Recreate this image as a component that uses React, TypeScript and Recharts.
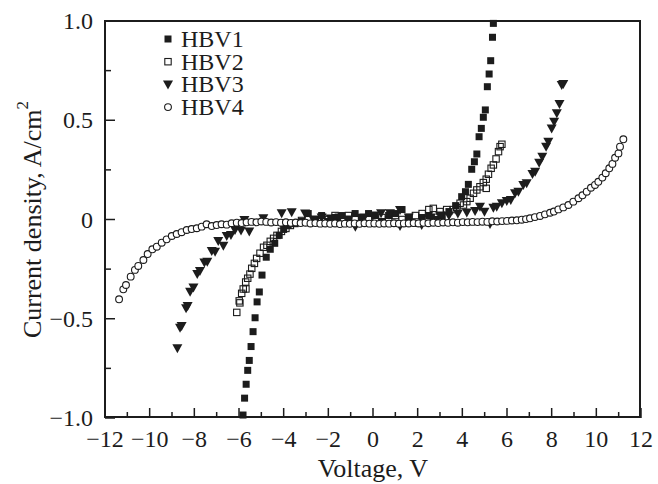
import React from 'react';
import { ScatterChart, Scatter, XAxis, YAxis } from 'recharts';

const INK = '#1c1c1c';
const FONT = '"Liberation Serif", "Times New Roman", serif';

// layout
const W = 658;
const H = 484;
const M = { top: 21, right: 17, bottom: 0, left: 0 };
const Y_AXIS_W = 105;
const X_AXIS_H = 66;

// x ticks every 1 V, labels only on even values
const xTicks = [-12, -11, -10, -9, -8, -7, -6, -5, -4, -3, -2, -1, 0, 1, 2, 3, 4, 5, 6, 7, 8, 9, 10, 11, 12];
const yTicks = [-1, -0.75, -0.5, -0.25, 0, 0.25, 0.5, 0.75, 1];
const yTickLabels: Record<string, string> = { '-1': '\u22121.0', '-0.5': '\u22120.5', '0': '0', '0.5': '0.5', '1': '1.0' };

// [voltage, current density]
const hbv1: [number, number][] = [
  [-5.82, -0.985], [-5.75, -0.9], [-5.68, -0.83], [-5.61, -0.76], [-5.54, -0.71], [-5.46, -0.64],
  [-5.37, -0.565], [-5.28, -0.495], [-5.19, -0.415], [-5.09, -0.365], [-4.97, -0.28], [-4.78, -0.19],
  [-4.6, -0.15], [-4.4, -0.12], [-4.2, -0.08], [-4.0, -0.05], [-3.8, -0.03], [-3.5, -0.02], [-3.2, -0.01],
  [-2.9, 0.03], [-2.6, 0.0], [-2.3, 0.02], [-2.0, -0.01], [-1.7, 0.01], [-1.4, 0.02], [-1.1, 0.0],
  [-0.8, 0.03], [-0.5, 0.01], [-0.2, 0.03], [0.1, 0.02], [0.4, -0.01], [0.7, 0.02], [1.0, 0.03],
  [1.3, 0.05], [1.6, 0.0], [1.9, -0.02], [2.2, 0.01], [2.5, 0.02], [2.8, 0.0], [3.1, 0.02], [3.4, 0.04],
  [3.7, 0.07], [3.97, 0.115], [4.14, 0.14], [4.27, 0.177], [4.42, 0.253], [4.54, 0.291], [4.65, 0.33],
  [4.75, 0.417], [4.85, 0.459], [4.94, 0.515], [5.03, 0.552], [5.12, 0.669], [5.2, 0.733], [5.27, 0.8],
  [5.35, 0.918], [5.39, 0.988],
];

const hbv2: [number, number][] = [
  [-6.1, -0.468], [-5.99, -0.41], [-5.96, -0.42], [-5.88, -0.372], [-5.81, -0.35], [-5.69, -0.35],
  [-5.7, -0.315], [-5.61, -0.296], [-5.51, -0.275], [-5.43, -0.246], [-5.31, -0.221], [-5.21, -0.196],
  [-5.06, -0.17], [-4.9, -0.14], [-4.75, -0.13], [-4.6, -0.11], [-4.45, -0.095], [-4.3, -0.08],
  [-4.1, -0.06], [-3.9, -0.045], [-3.7, -0.03], [-3.5, -0.02], [-3.2, -0.005], [-2.9, 0.0], [-2.6, -0.01],
  [-2.3, 0.01], [-2.0, 0.0], [-1.7, 0.02], [-1.4, 0.0], [-1.1, 0.02], [-0.8, 0.01], [-0.5, 0.0],
  [-0.2, 0.01], [0.1, 0.0], [0.4, 0.01], [0.7, 0.0], [1.0, 0.02], [1.3, 0.0], [1.6, 0.01], [1.9, 0.02],
  [2.2, 0.03], [2.5, 0.05], [2.7, 0.056], [3.0, 0.04], [3.3, 0.05], [3.6, 0.05], [3.75, 0.06],
  [3.9, 0.082], [4.05, 0.073], [4.2, 0.09], [4.35, 0.107], [4.5, 0.132], [4.65, 0.149], [4.79, 0.165],
  [4.94, 0.186], [5.07, 0.157], [5.07, 0.203], [5.17, 0.228], [5.29, 0.258], [5.39, 0.275], [5.51, 0.305],
  [5.62, 0.342], [5.69, 0.367], [5.77, 0.379],
];

const hbv3: [number, number][] = [
  [-8.76, -0.649], [-8.64, -0.545], [-8.57, -0.537], [-8.37, -0.447], [-8.3, -0.436], [-8.19, -0.364],
  [-8.04, -0.342], [-7.87, -0.275], [-7.75, -0.259], [-7.55, -0.216], [-7.42, -0.213], [-7.22, -0.159],
  [-7.07, -0.162], [-6.93, -0.108], [-6.7, -0.132], [-6.55, -0.083], [-6.36, -0.078], [-6.18, -0.053],
  [-5.91, -0.056], [-5.76, -0.003], [-5.54, -0.061], [-4.91, 0.006], [-4.09, 0.031], [-3.64, 0.036],
  [-3.04, 0.03], [-2.67, 0.0], [-2.3, 0.01], [-1.9, 0.005], [-1.5, 0.01], [-1.1, 0.0], [-0.79, -0.036],
  [-0.4, 0.01], [0.0, 0.02], [0.36, 0.031], [0.76, 0.031], [1.21, 0.048], [1.21, -0.033], [1.6, 0.01],
  [2.18, -0.028], [2.6, 0.01], [3.0, 0.02], [3.4, 0.02], [3.8, 0.03], [4.2, 0.035], [4.57, 0.043],
  [4.79, 0.064], [4.99, 0.039], [5.24, -0.023], [5.39, 0.059], [5.54, 0.064], [5.77, 0.082], [5.99, 0.093],
  [6.17, 0.098], [6.36, 0.132], [6.51, 0.14], [6.73, 0.174], [6.88, 0.182], [7.14, 0.229], [7.26, 0.241],
  [7.44, 0.286], [7.58, 0.316], [7.75, 0.367], [7.85, 0.392], [8.0, 0.459], [8.11, 0.493], [8.23, 0.535],
  [8.35, 0.582], [8.45, 0.678], [8.52, 0.683],
];

const hbv4: [number, number][] = [
  [-11.37, -0.402], [-11.18, -0.352], [-11.06, -0.33], [-10.85, -0.288], [-10.66, -0.254], [-10.51, -0.234],
  [-10.28, -0.204], [-10.09, -0.174], [-9.88, -0.15], [-9.68, -0.137], [-9.46, -0.117], [-9.24, -0.1],
  [-9.01, -0.083], [-8.79, -0.073], [-8.57, -0.064], [-8.34, -0.053], [-8.12, -0.048], [-7.89, -0.044],
  [-7.67, -0.036], [-7.45, -0.024], [-7.22, -0.033], [-7.0, -0.028], [-6.78, -0.024], [-6.55, -0.026],
  [-6.33, -0.019], [-6.1, -0.016], [-5.88, -0.018], [-5.66, -0.014], [-5.44, -0.012], [-5.22, -0.014],
  [-5.0, -0.01], [-4.78, -0.012], [-4.56, -0.015], [-4.34, -0.013], [-4.12, -0.016], [-3.9, -0.014],
  [-3.68, -0.017], [-3.46, -0.015], [-3.24, -0.018], [-3.02, -0.016], [-2.8, -0.02], [-2.58, -0.018],
  [-2.36, -0.021], [-2.14, -0.02], [-1.92, -0.022], [-1.7, -0.02], [-1.48, -0.023], [-1.26, -0.021],
  [-1.04, -0.022], [-0.82, -0.02], [-0.6, -0.022], [-0.38, -0.019], [-0.16, -0.021], [0.06, -0.02],
  [0.28, -0.022], [0.5, -0.02], [0.72, -0.021], [0.94, -0.019], [1.16, -0.021], [1.38, -0.02], [1.6, -0.02],
  [1.82, -0.018], [2.04, -0.02], [2.26, -0.017], [2.48, -0.019], [2.7, -0.016], [2.92, -0.018], [3.14, -0.015],
  [3.36, -0.017], [3.58, -0.014], [3.8, -0.016], [4.02, -0.013], [4.24, -0.014], [4.46, -0.012], [4.68, -0.013],
  [4.9, -0.011], [5.12, -0.012], [5.34, -0.009], [5.56, -0.01], [5.78, -0.008], [6.0, -0.007], [6.22, -0.005],
  [6.44, -0.004], [6.66, -0.001], [6.85, 0.002], [7.03, 0.006], [7.25, 0.012], [7.48, 0.018], [7.7, 0.026],
  [7.93, 0.034], [8.1, 0.04], [8.3, 0.051], [8.52, 0.061], [8.75, 0.073], [8.97, 0.09], [9.2, 0.107],
  [9.38, 0.122], [9.57, 0.14], [9.76, 0.16], [9.94, 0.174], [10.09, 0.19], [10.27, 0.211], [10.42, 0.233],
  [10.58, 0.258], [10.72, 0.28], [10.84, 0.311], [10.99, 0.333], [11.06, 0.367], [11.21, 0.404],
];

const series = [
  { name: 'HBV1', data: hbv1, kind: 'fsq' },
  { name: 'HBV2', data: hbv2, kind: 'osq' },
  { name: 'HBV3', data: hbv3, kind: 'tri' },
  { name: 'HBV4', data: hbv4, kind: 'circ' },
];

const toPts = (arr: [number, number][]) => arr.map(([v, j]) => ({ v, j }));

function Marker({ kind, cx, cy }: { kind: string; cx: number; cy: number }) {
  if (kind === 'fsq') return <rect x={cx - 3.5} y={cy - 3.5} width={7} height={7} fill={INK} />;
  if (kind === 'osq')
    return <rect x={cx - 3.2} y={cy - 3.2} width={6.4} height={6.4} fill="none" stroke={INK} strokeWidth={1.1} />;
  if (kind === 'tri')
    return <path d={`M${cx - 5},${cy - 4}L${cx + 5},${cy - 4}L${cx},${cy + 5}Z`} fill={INK} />;
  return <circle cx={cx} cy={cy} r={3.4} fill="#fff" stroke={INK} strokeWidth={1.1} />;
}

const fmtX = (v: number) => (v < 0 ? '\u2212' + Math.abs(v) : String(v));

const XTick = (props: any) => {
  const { x, y, payload } = props;
  const v = payload.value;
  const major = v % 2 === 0;
  return (
    <g>
      <line x1={x} x2={x} y1={y} y2={y - (major ? 10 : 6)} stroke={INK} strokeWidth={1.5} />
      {major && (
        <text x={x} y={y + 29} textAnchor="middle" fontSize={24} fontFamily={FONT} fill={INK}>
          {fmtX(v)}
        </text>
      )}
    </g>
  );
};

const YTick = (props: any) => {
  const { x, y, payload } = props;
  const label = yTickLabels[String(payload.value)];
  return (
    <g>
      <line x1={x} x2={x + (label ? 10 : 6)} y1={y} y2={y} stroke={INK} strokeWidth={1.5} />
      {label && (
        <text x={x - 12} y={y + 8} textAnchor="end" fontSize={24} fontFamily={FONT} fill={INK}>
          {label}
        </text>
      )}
    </g>
  );
};

const LegendBox = () => (
  <svg width={120} height={100} style={{ position: 'absolute', left: 160, top: 25 }}>
    {series.map((s, i) => (
      <g key={s.name}>
        <Marker kind={s.kind} cx={8} cy={14 + i * 22.7} />
        <text x={21} y={14 + i * 22.7 + 8} fontSize={24} fontFamily={FONT} fill={INK}>
          {s.name}
        </text>
      </g>
    ))}
  </svg>
);

// plot frame drawn on top of the chart
const plotLeft = M.left + Y_AXIS_W;
const plotTop = M.top;
const plotW = W - M.right - plotLeft;
const plotH = H - M.bottom - X_AXIS_H - plotTop;
const FRAME_W = 2.5;

export default function App() {
  return (
    <div style={{ position: 'absolute', left: 0, top: 0, width: W, height: H, background: '#fff' }}>
      <ScatterChart width={W} height={H} margin={M}>
        <XAxis
          type="number"
          dataKey="v"
          domain={[-12, 12]}
          ticks={xTicks}
          interval={0}
          height={X_AXIS_H}
          axisLine={false}
          tickLine={false}
          tickSize={0}
          tickMargin={0}
          tick={<XTick />}
          label={{
            position: 'insideBottom',
            content: (p: any) => {
              const vb = p.viewBox || { x: 105, width: 536, y: 418 };
              return (
                <text x={vb.x + vb.width / 2} y={vb.y + 59} textAnchor="middle" fontSize={26} fontFamily={FONT} fill={INK}>
                  Voltage, V
                </text>
              );
            },
          }}
        />
        <YAxis
          type="number"
          dataKey="j"
          domain={[-1, 1]}
          ticks={yTicks}
          interval={0}
          width={Y_AXIS_W}
          axisLine={false}
          tickLine={false}
          tickSize={0}
          tickMargin={0}
          tick={<YTick />}
          label={{
            position: 'insideLeft',
            content: (p: any) => {
              const vb = p.viewBox || { x: 0, y: 21, height: 397 };
              const cx = vb.x + 32;
              const cy = vb.y + vb.height / 2;
              return (
                <text x={cx} y={cy} transform={`rotate(-90 ${cx} ${cy})`} textAnchor="middle" dominantBaseline="central" fontSize={26} fontFamily={FONT} fill={INK}>
                  Current density, A/cm<tspan dy={-10} fontSize={17}>2</tspan>
                </text>
              );
            },
          }}
        />
        {series.map((s) => (
          <Scatter
            key={s.name}
            name={s.name}
            data={toPts(s.data)}
            isAnimationActive={false}
            shape={(p: any) => <Marker kind={s.kind} cx={p.cx} cy={p.cy} />}
          />
        ))}
      </ScatterChart>
      <div
        style={{
          position: 'absolute',
          left: plotLeft - FRAME_W / 2,
          top: plotTop - FRAME_W / 2,
          width: plotW - FRAME_W,
          height: plotH - FRAME_W,
          borderStyle: 'solid',
          borderWidth: FRAME_W,
          borderColor: INK,
          boxSizing: 'content-box',
          zIndex: 5,
          pointerEvents: 'none',
        }}
      />
      <LegendBox />
    </div>
  );
}
